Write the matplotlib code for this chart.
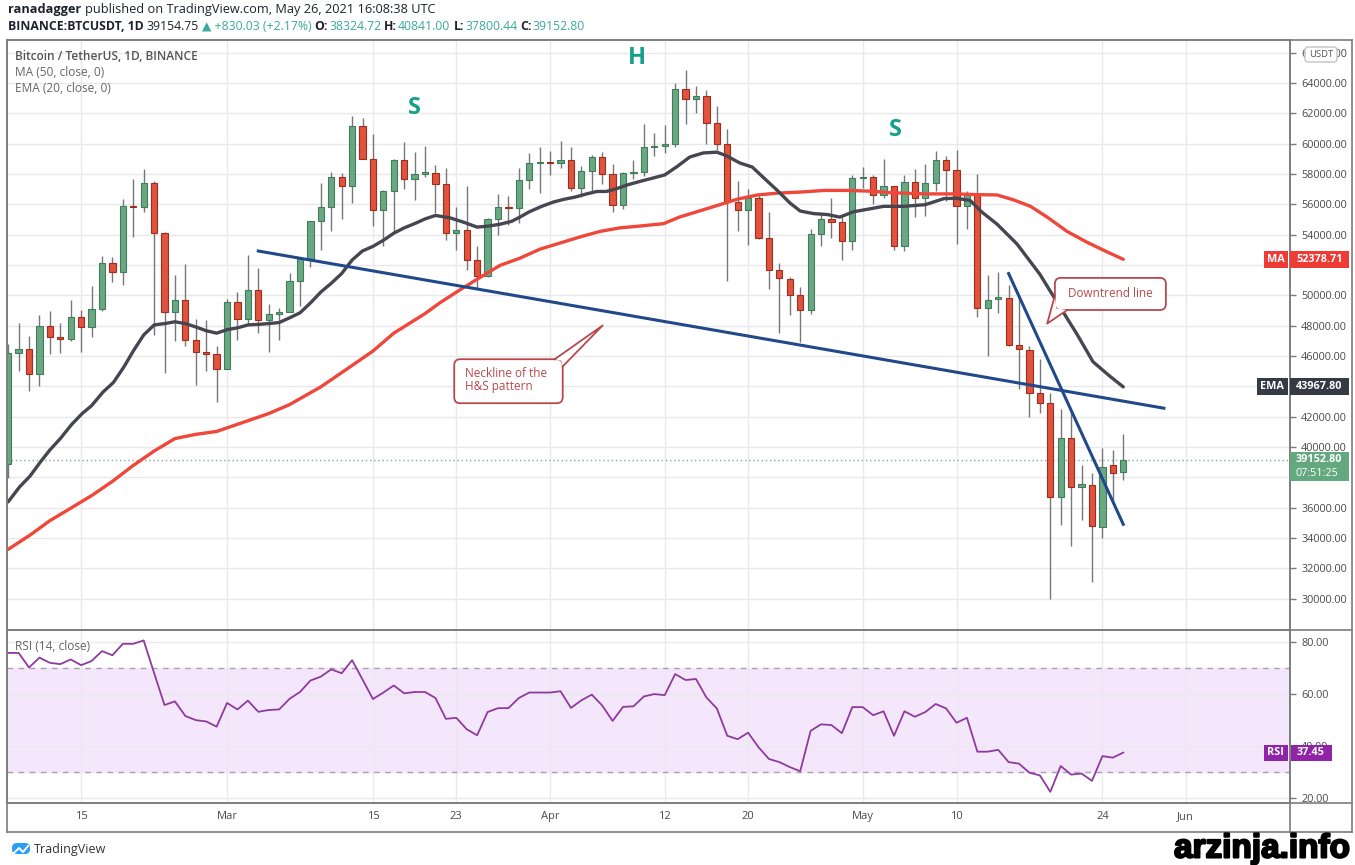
import datetime as dt
import matplotlib
matplotlib.use('Agg')
import matplotlib.pyplot as plt
import matplotlib.dates as mdates
import matplotlib.transforms as mtrans
import matplotlib.patheffects as pe
from matplotlib.patches import Rectangle, FancyBboxPatch, Polygon

W, H = 1355, 865
FAM = ['Open Sans', 'DejaVu Sans']
plt.rcParams['font.family'] = FAM

#### daily candles, BTCUSDT 1D, first candle 2021-02-08
start = dt.date(2021, 2, 8)
opens = [38886, 46196, 46481, 44839, 47969, 47287, 47153, 48577, 47911, 49133,
         52119, 51552, 55906, 55841, 57412, 54087, 48891, 49676, 47073, 46276,
         46104, 45134, 49595, 48436, 50349, 48374, 48746, 48882, 50959, 52375,
         54874, 55851, 57773, 57221, 61188, 58976, 55605, 56900, 58925, 57648,
         58030, 58100, 57351, 54083, 54342, 52303, 51293, 55025, 55818, 55782,
         57628, 58731, 58736, 58735, 58942, 57072, 58202, 59130, 57990, 55953,
         58077, 58142, 59770, 59860, 59964, 63576, 62959, 63158, 61334, 60006,
         56150, 55633, 56425, 53787, 51690, 51110, 50047, 49004, 54021, 55033,
         54824, 53555, 57714, 57828, 56610, 57213, 53241, 57473, 56428, 57381,
         58926, 58280, 55860, 56704, 49150, 49735, 49855, 46760, 46427, 43539,
         42910, 36731, 40597, 37371, 37531, 34700, 38810, 38324.72]
highs = [46794, 48200, 47310, 48678, 48985, 48150, 49707, 49010, 50620, 52618,
         52530, 56368, 57700, 58352, 57508, 54183, 51374, 52041, 48424, 48394,
         46638, 49790, 50200, 52640, 51773, 49448, 49200, 51450, 52402, 54895,
         57387, 58150, 58058, 61844, 61682, 60633, 56938, 58981, 60100, 59449,
         59880, 58589, 58430, 55830, 57200, 53230, 55073, 56700, 56559, 58405,
         59368, 59800, 59490, 60200, 59791, 58500, 59272, 59474, 58650, 58153,
         58894, 61300, 60700, 61199, 64000, 64854, 63800, 63520, 62506, 61000,
         57526, 57000, 56757, 55521, 52130, 51200, 50567, 54356, 55460, 56428,
         55195, 57963, 58448, 57911, 58981, 57232, 57911, 58360, 58650, 59500,
         59210, 59592, 56888, 58000, 51367, 51560, 50700, 49800, 46643, 45800,
         43546, 42536, 42250, 38829, 38270, 39920, 39791, 40841.00]
lows = [37988, 45000, 43727, 43994, 46125, 46202, 47014, 46300, 47225, 48947,
        50901, 50710, 53863, 55477, 47400, 44892, 47003, 46674, 44107, 45000,
        43000, 45115, 47047, 48100, 47500, 46300, 47070, 48882, 49274, 51845,
        53005, 54272, 55013, 56078, 58966, 54600, 53271, 54123, 57023, 56270,
        57820, 55450, 53650, 53000, 51700, 50427, 51214, 53950, 54640, 54800,
        57000, 56769, 57935, 58428, 56880, 56478, 56800, 57333, 55473, 55700,
        57654, 57900, 59177, 59370, 59793, 61301, 62020, 60000, 59580, 50931,
        54221, 53329, 53695, 50400, 47500, 48726, 46930, 48753, 53225, 53813,
        52330, 53013, 57052, 56035, 56435, 53000, 52900, 55200, 55241, 56900,
        56235, 53400, 54370, 48600, 46000, 48870, 46650, 43825, 42001, 42250,
        30000, 34850, 33500, 35200, 31111, 34031, 36419, 37800.44]
closes = [46196, 46481, 44839, 47969, 47287, 47153, 48577, 47911, 49133, 52119,
          51552, 55906, 55841, 57408, 54087, 48891, 49676, 47073, 46276, 46106,
          45135, 49587, 48440, 50349, 48374, 48751, 48882, 50971, 52375, 54884,
          55851, 57773, 57221, 61188, 58968, 55605, 56900, 58912, 57648, 58030,
          58102, 57351, 54083, 54340, 52303, 51293, 55025, 55817, 55777, 57635,
          58746, 58740, 58720, 58950, 57051, 58202, 59129, 57991, 55953, 58077,
          58142, 59769, 59860, 59964, 63577, 62959, 63159, 61334, 60006, 56150,
          55633, 56425, 53787, 51690, 51125, 50047, 49004, 54021, 55033, 54824,
          53555, 57750, 57828, 56610, 57213, 53241, 57473, 56428, 57380, 58928,
          58280, 55860, 56704, 49150, 49716, 49880, 46760, 46456, 43537, 42910,
          36731, 40596, 37371, 37536, 34770, 38705, 38324, 39152.80]

#### RSI (14, close), one value per candle
rsi = [75.7, 75.7, 70.1, 73.9, 71.9, 71.4, 73.2, 71.0, 72.6, 76.4,
       74.8, 79.2, 79.2, 80.5, 68.0, 55.7, 57.1, 51.5, 49.9, 49.4,
       47.4, 56.5, 54.0, 57.4, 53.1, 53.8, 54.0, 58.1, 60.7, 65.1,
       66.6, 69.4, 67.9, 72.9, 65.5, 58.0, 60.5, 63.2, 60.2, 60.7,
       60.7, 58.4, 50.4, 50.8, 46.4, 44.1, 53.0, 54.5, 54.5, 58.4,
       60.5, 60.5, 60.5, 61.0, 54.6, 57.5, 59.7, 55.5, 49.6, 55.0,
       55.2, 59.0, 59.9, 59.5, 67.6, 65.3, 65.7, 58.6, 54.4, 43.9,
       42.6, 45.1, 39.5, 35.0, 33.8, 31.9, 30.3, 45.8, 48.3, 48.0,
       44.9, 54.9, 54.9, 51.8, 53.3, 43.9, 53.3, 51.2, 53.0, 56.1,
       54.4, 48.9, 50.8, 37.8, 37.8, 38.5, 33.8, 33.2, 29.7, 28.7,
       22.4, 32.3, 29.0, 29.4, 26.6, 36.1, 35.5, 37.45]

#### indicator lines (day offset from start, value)
ema_days = [0, 1.1, 2.1, 3.1, 4, 5, 6.1, 7.1, 8, 9.1, 10.1, 11.1, 12, 13, 14, 15, 16,
            17, 18, 19, 20, 21, 22, 23, 24, 25, 26, 27, 28, 29, 30, 31, 32, 33, 34,
            35, 36, 37, 38, 39, 40, 41, 42.4, 43.8, 45, 46.1, 47.2, 48.3, 49.1, 50,
            51.2, 52.3, 53.3, 54.4, 55.5, 56.5, 57.4, 58.4, 59.4, 60.6, 61.9, 63,
            64.2, 65.4, 66.7, 68, 68.9, 70.2, 71.4, 72.5, 73.8, 75, 76, 77.3, 78.6,
            79.8, 81.1, 82.4, 84, 85.9, 88, 89.8, 91, 92.3, 93.4, 94.9, 96.8, 99,
            100.9, 102.5, 104.1, 105.7, 107]
ema_vals = [36390, 37380, 38090, 39030, 39810, 40560, 41500, 42210, 42730, 43630,
            44260, 45280, 46330, 47390, 48050, 48140, 48260, 48140, 47920, 47670,
            47510, 47740, 47860, 48050, 48090, 48140, 48210, 48520, 48850, 49500,
            50220, 50800, 51440, 52330, 52930, 53230, 53630, 54100, 54450, 54730,
            55040, 55270, 55110, 54800, 54500, 54570, 54690, 54880, 55160, 55510,
            55870, 56150, 56330, 56480, 56690, 56850, 56850, 57040, 57280, 57510,
            57740, 57940, 58500, 59120, 59390, 59440, 59210, 58730, 58460, 57750,
            56920, 56100, 55560, 55390, 55330, 55160, 55510, 55670, 55870, 55870,
            55980, 56380, 56400, 56260, 55510, 54690, 53390, 51390, 49270, 47510,
            45620, 44680, 43967.80]
ma_days = [0, 2.1, 4, 6, 8, 10, 12, 14, 16, 18, 20, 22, 25, 27, 30, 33, 35, 37,
           40, 41.4, 43.2, 45.2, 47.2, 49.1, 51, 53, 54.9, 56.8, 58.7, 60.6, 62.9,
           64.4, 66.4, 68.3, 69.9, 71.9, 73.8, 76, 78.3, 80.5, 82.7, 84.9, 88.1,
           91, 93, 94.9, 96.5, 98.1, 99.7, 101.6, 103.5, 105.5, 107]
ma_vals = [33260, 34200, 35150, 35970, 36800, 37740, 38790, 39740, 40560, 40840,
           41030, 41500, 42210, 42800, 43970, 45380, 46330, 47510, 48800, 49500,
           50300, 51150, 51980, 52450, 53040, 53460, 53860, 54220, 54450, 54570,
           54730, 55160, 55580, 55980, 56330, 56620, 56740, 56810, 56920, 56920,
           56870, 56760, 56690, 56690, 56640, 56620, 56290, 55870, 55160, 54220,
           53510, 52850, 52378.71]

#### drawn trend lines (day offset, price)
neck_days, neck_prices = [24.0, 110.9], [52925, 42563]
down_days, down_prices = [96.0, 107.0], [51440, 34910]

last_price = 39152.80
price_ticks = list(range(30000, 66001, 2000))
hidden_price_labels = [38000, 44000, 52000]   # covered by the value badges
tick_dates = ['2021-02-15', '2021-03-01', '2021-03-15', '2021-03-23', '2021-04-01',
              '2021-04-12', '2021-04-20', '2021-05-01', '2021-05-10', '2021-05-24',
              '2021-06-01']
tick_labels = ['15', 'Mar', '15', '23', 'Apr', '12', '20', 'May', '10', '24', 'Jun']

GREEN, GREEN_E = '#6aa884', '#3f7d5c'
RED, RED_E = '#e0533d', '#9e2d1f'
WICK = '#77777a'
TEAL = '#3aa99f'
NOTE = '#b9484c'
AXC = '#4a4a4a'

fig = plt.figure(figsize=(W / 100, H / 100), dpi=100)
PX = mtrans.Affine2D().scale(1.0 / W, -1.0 / H).translate(0, 1) + fig.transFigure

ax = fig.add_axes([7 / W, 1 - 630 / H, 1283 / W, 590 / H])
axr = fig.add_axes([7 / W, 1 - 803 / H, 1283 / W, 173 / H], sharex=ax)

x0 = mdates.date2num(start)
xs = [x0 + i for i in range(len(closes))]

ax.set_xlim(x0 - 0.115, x0 + 123.0)
ax.set_ylim(27942, 66835)
axr.set_ylim(18.1, 84.5)

# candles
ax.vlines(xs, lows, highs, color=WICK, lw=1, zorder=2)
bottoms = [min(o, c) for o, c in zip(opens, closes)]
heights = [max(abs(c - o), 50) for o, c in zip(opens, closes)]
faces = [GREEN if c >= o else RED for o, c in zip(opens, closes)]
edges = [GREEN_E if c >= o else RED_E for o, c in zip(opens, closes)]
ax.bar(xs, heights, bottom=bottoms, width=0.6, color=faces, edgecolor=edges,
       linewidth=0.8, zorder=3)

ax.plot([x0 + d for d in ma_days], ma_vals, color='#f0473b', lw=2.4, zorder=4,
        solid_capstyle='round')
ax.plot([x0 + d for d in ema_days], ema_vals, color='#45464f', lw=2.4, zorder=4,
        solid_capstyle='round')
ax.plot([x0 + d for d in neck_days], neck_prices, color='#21498a', lw=2.2, zorder=5)
ax.plot([x0 + d for d in down_days], down_prices, color='#21498a', lw=2.2, zorder=5)
ax.axhline(last_price, color='#7fae93', lw=1, ls=(0, (1, 2)), zorder=1.5)

# pattern letters
for txt, d, p in [('S', 39.0, 62350), ('H', 60.35, 65650), ('S', 85.1, 60900)]:
    ax.text(x0 + d, p, txt, color='#14a08b', fontsize=17, fontweight='bold',
            ha='center', va='center', zorder=6)

# RSI panel
axr.axhspan(30, 70, color='#f4e7fc', zorder=0)
for lvl in (30, 70):
    axr.axhline(lvl, color='#a99fb3', lw=1, ls=(0, (4, 4)), zorder=1)
axr.plot(xs, rsi, color='#8e3b9e', lw=1.3, zorder=3)

# ticks and grids
dnums = [mdates.datestr2num(s) for s in tick_dates]
axr.set_xticks(dnums)
axr.set_xticklabels(tick_labels)
ax.set_yticks(price_ticks)
ax.set_yticklabels(['' if v in hidden_price_labels else f'{v:.2f}' for v in price_ticks])
axr.set_yticks([20, 40, 60, 80])
axr.set_yticklabels(['20.00', '40.00', '60.00', '80.00'])
for a in (ax, axr):
    a.yaxis.tick_right()
    a.tick_params(axis='y', length=4, width=1, color='#7a7a7a', pad=4,
                  labelsize=7.8, labelcolor=AXC)
    a.grid(True, color='#e9e9eb', lw=1, zorder=0)
    a.set_axisbelow(True)
    for s in a.spines.values():
        s.set_color('#7d7d7d')
        s.set_linewidth(1.2)
ax.tick_params(axis='x', length=0, labelbottom=False)
axr.tick_params(axis='x', length=0, pad=6, labelsize=8, labelcolor=AXC)


def to_px(a, d, v):
    X, Y = a.transData.transform((x0 + d, v))
    fx, fy = fig.transFigure.inverted().transform((X, Y))
    return fx * W, (1 - fy) * H


# outer frame lines
for (xa, ya, xb, yb) in [(7, 40, 1352, 40), (7, 832, 1352, 832), (7, 40, 7, 832),
                         (1352, 40, 1352, 832), (1290, 40, 1290, 832),
                         (7, 630, 1352, 630), (7, 803, 1352, 803)]:
    fig.add_artist(plt.Line2D([xa, xb], [ya, yb], transform=PX, color='#7d7d7d',
                              lw=1.2))


def callout(box, tip, b1, b2, inner, lines, tx, ty, ha):
    l, t, r, b = box
    fig.add_artist(FancyBboxPatch((l, t), r - l, b - t, boxstyle='round,pad=0,rounding_size=6',
                                  transform=PX, fc='white', ec=NOTE, lw=1.3, zorder=7))
    fig.add_artist(Polygon([b1, tip, b2, inner], closed=True, transform=PX, fc='white',
                           ec='none', zorder=7.1))
    fig.add_artist(plt.Line2D([b1[0], tip[0], b2[0]], [b1[1], tip[1], b2[1]], transform=PX,
                              color=NOTE, lw=1.3, zorder=7.2))
    fig.text(tx, ty, lines, transform=PX, color=NOTE, fontsize=8.5, ha=ha, va='center',
             linespacing=0.95, zorder=8)


tx_, ty_ = to_px(ax, 57.05, 48021)
callout((tx_ - 148.5, ty_ + 33.8, tx_ - 40, ty_ + 77.8), (tx_, ty_),
        (tx_ - 48, ty_ + 33.8), (tx_ - 40, ty_ + 41), (tx_ - 41.5, ty_ + 35.3),
        'Neckline of the\nH&S pattern', tx_ - 138, ty_ + 54.5, 'left')
tx_, ty_ = to_px(ax, 99.7, 48140)
callout((tx_ + 7.7, ty_ - 45.7, tx_ + 118.7, ty_ - 13.6), (tx_, ty_),
        (tx_ + 7.7, ty_ - 28), (tx_ + 20, ty_ - 13.6), (tx_ + 9.2, ty_ - 15.1),
        'Downtrend line', tx_ + 63, ty_ - 30.5, 'center')


def badge(x_left, x_right, yc, h, text, fc, size=7.8, weight='normal', ha='left'):
    fig.add_artist(Rectangle((x_left, yc - h / 2), x_right - x_left, h, transform=PX,
                             fc=fc, ec='none', zorder=9))
    xt = x_left + 6 if ha == 'left' else (x_left + x_right) / 2
    fig.text(xt, yc, text, transform=PX, color='white', fontsize=size, ha=ha,
             va='center', fontweight=weight, zorder=10)


_, y_ma = to_px(ax, 0, ma_vals[-1])
badge(1263.5, 1287.5, y_ma, 17, 'MA', '#ef3b36', ha='center', weight='bold')
badge(1290, 1349, y_ma, 17, f'{ma_vals[-1]:.2f}', '#ef3b36', weight='bold')
_, y_ema = to_px(ax, 0, ema_vals[-1])
badge(1257, 1287.5, y_ema, 17, 'EMA', '#363a45', ha='center', weight='bold')
badge(1290, 1349, y_ema, 17, f'{ema_vals[-1]:.2f}', '#363a45', weight='bold')
_, y_lp = to_px(ax, 0, last_price)
fig.add_artist(Rectangle((1290, y_lp - 7.5), 59, 29, transform=PX, fc='#64a880',
                         ec='none', zorder=9))
fig.text(1296, y_lp, f'{last_price:.2f}', transform=PX, color='white', fontsize=7.8,
         va='center', fontweight='bold', zorder=10)
fig.text(1296, y_lp + 14, '07:51:25', transform=PX, color='white', fontsize=7.8,
         va='center', zorder=10)
_, y_rsi = to_px(axr, 0, rsi[-1])
badge(1264, 1287.5, y_rsi, 16, 'RSI', '#9124a6', ha='center', weight='bold')
badge(1290.5, 1332, y_rsi, 16, f'{rsi[-1]:.2f}', '#9124a6', weight='bold')
fig.add_artist(FancyBboxPatch((1305, 47), 32, 15, boxstyle='round,pad=0,rounding_size=3',
                              transform=PX, fc='white', ec='#c4c4c4', lw=1, zorder=9))
fig.text(1321, 54.5, 'USDT', transform=PX, color='#555555', fontsize=6.8, ha='center',
         va='center', zorder=10)

# legend texts in the chart
fig.text(15, 57, 'Bitcoin / TetherUS, 1D, BINANCE', transform=PX, color='#555555',
         fontsize=8.6, fontweight='semibold', va='center')
fig.text(15, 73, 'MA (50, close, 0)', transform=PX, color='#666666', fontsize=8.6,
         va='center')
fig.text(15, 89, 'EMA (20, close, 0)', transform=PX, color='#666666', fontsize=8.6,
         va='center')
fig.text(15, 647, 'RSI (14, close)', transform=PX, color='#666666', fontsize=8.6,
         va='center')

# header rows
renderer = fig.canvas.get_renderer()


def put_row(x, y, parts, size):
    for txt, col, wt, gap in parts:
        t = fig.text(x, y, txt, transform=PX, fontsize=size, color=col, fontweight=wt,
                     va='center', ha='left')
        x += t.get_window_extent(renderer).width + gap


DARK = '#1e222d'
put_row(8, 9, [('ranadagger', DARK, 'bold', 3.5),
               ('published on TradingView.com, May 26, 2021 16:08:38 UTC', DARK, 'normal', 0)],
        9.2)
put_row(8, 26, [('BINANCE:BTCUSDT, 1D', DARK, 'bold', 3), ('39154.75', DARK, 'normal', 3),
                ('▲ +830.03 (+2.17%)', TEAL, 'normal', 3),
                ('O:', DARK, 'bold', 1), ('38324.72', TEAL, 'normal', 3),
                ('H:', DARK, 'bold', 1), ('40841.00', TEAL, 'normal', 3),
                ('L:', DARK, 'bold', 1), ('37800.44', TEAL, 'normal', 3),
                ('C:', DARK, 'bold', 1), ('39152.80', TEAL, 'normal', 0)],
        8.85)

# footer
fig.add_artist(FancyBboxPatch((12, 843), 18, 11, boxstyle='round,pad=0,rounding_size=5',
                              transform=PX, fc='#2a9df4', ec='none'))
fig.add_artist(plt.Line2D([14, 19, 23, 28], [853, 848, 852, 846], transform=PX,
                          color='white', lw=1.4))
fig.text(34, 849, 'TradingView', transform=PX, color='#333333', fontsize=9, va='center')
fig.text(1351, 849, 'arzinja.info', transform=PX, color='black', fontsize=24,
         fontweight='heavy', family=['Liberation Sans', 'DejaVu Sans'], ha='right',
         va='center', path_effects=[pe.withStroke(linewidth=1.5, foreground='black')])

fig.savefig('out.png', dpi=100, facecolor='white')
